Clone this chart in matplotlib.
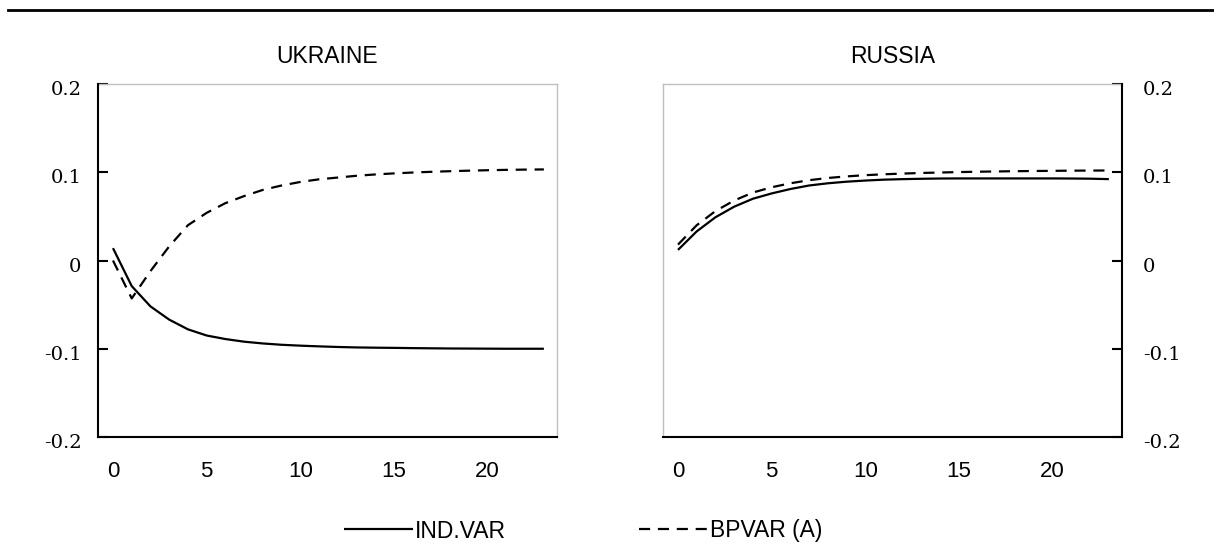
import numpy as np
import matplotlib
matplotlib.use('Agg')
import matplotlib.pyplot as plt
from matplotlib.lines import Line2D
from matplotlib.transforms import ScaledTranslation

horizon = np.arange(24)

# Ukraine responses
ukr_ind = [0.014, -0.029, -0.052, -0.067, -0.078, -0.085, -0.089, -0.092,
           -0.094, -0.0955, -0.0965, -0.0973, -0.098, -0.0985, -0.0988, -0.099,
           -0.0993, -0.0995, -0.0997, -0.0998, -0.0999, -0.1, -0.1, -0.1]
ukr_bp = [0.000, -0.043, -0.012, 0.016, 0.040, 0.054, 0.065, 0.073,
          0.080, 0.085, 0.089, 0.092, 0.094, 0.096, 0.0975, 0.0987,
          0.0997, 0.1005, 0.1012, 0.1018, 0.1023, 0.1027, 0.103, 0.1032]

# Russia responses
rus_ind = [0.012, 0.033, 0.049, 0.061, 0.070, 0.076, 0.081, 0.085,
           0.0875, 0.0893, 0.0906, 0.0916, 0.0922, 0.0926, 0.0929, 0.093,
           0.093, 0.093, 0.093, 0.093, 0.093, 0.0929, 0.0927, 0.0922]
rus_bp = [0.018, 0.040, 0.056, 0.068, 0.077, 0.083, 0.0875, 0.091,
          0.0935, 0.0953, 0.0967, 0.0977, 0.0985, 0.0992, 0.0997, 0.1002,
          0.1006, 0.1009, 0.1012, 0.1014, 0.1016, 0.1018, 0.1019, 0.102]

titles = ['UKRAINE', 'RUSSIA']
series_names = ['IND.VAR', 'BPVAR (A)']
yticks = [-0.2, -0.1, 0, 0.1, 0.2]
ytick_labels = ['-0.2', '-0.1', '0', '0.1', '0.2']
xticks = [0, 5, 10, 15, 20]

W, H = 1214, 559
fig = plt.figure(figsize=(W / 100, H / 100), dpi=100)

sans = 'Liberation Sans'
serif = 'DejaVu Serif'
gray = '#bfbfbf'
dash = (0, (5, 3.5))

# thin rule along the top of the page
fig.add_artist(Line2D([8 / W, 1.0], [1 - 10 / H, 1 - 10 / H], color='black', lw=2))

panels = [(98, ukr_ind, ukr_bp, 'left'), (663, rus_ind, rus_bp, 'right')]
handles = None
for (x0, ind, bp, side), title in zip(panels, titles):
    ax = fig.add_axes([x0 / W, 1 - 437 / H, 459 / W, 353 / H])
    l1, = ax.plot(horizon, ind, color='black', lw=1.6, solid_capstyle='butt')
    l2, = ax.plot(horizon, bp, color='black', lw=1.6, linestyle=dash)
    handles = [l1, l2]

    ax.set_xlim(-0.8, 23.7)
    ax.set_ylim(-0.2, 0.2)

    for s in ax.spines.values():
        s.set_color(gray)
        s.set_linewidth(1)
    ax.spines['bottom'].set_color('black')
    ax.spines['bottom'].set_linewidth(1.5)
    ax.spines[side].set_color('black')
    ax.spines[side].set_linewidth(1.5)
    ax.spines['bottom'].set_zorder(3)
    ax.spines[side].set_zorder(3)

    ax.set_xticks(xticks)
    ax.set_xticklabels([str(t) for t in xticks], fontsize=16, family=sans)
    ax.tick_params(axis='x', length=0, pad=17)

    ax.set_yticks(yticks)
    ax.set_yticklabels(ytick_labels, fontsize=14, family=serif)
    if side == 'right':
        ax.yaxis.tick_right()
        ax.tick_params(axis='y', direction='in', length=7, width=1.5, pad=15)
    else:
        ax.tick_params(axis='y', direction='in', length=7, width=1.5, pad=12)
    shift = ScaledTranslation(0, -4 / 100, fig.dpi_scale_trans)
    for lab in ax.get_yticklabels():
        lab.set_transform(lab.get_transform() + shift)

    ax.set_title(title, fontsize=16.5, family=sans, pad=15)

fig.legend(handles, series_names, loc='center', bbox_to_anchor=(583 / W, 1 - 531 / H),
           ncol=2, frameon=False, handlelength=3.0, handletextpad=0.1,
           columnspacing=5.8, prop={'family': sans, 'size': 16.5})

fig.savefig('out.png', dpi=100)
